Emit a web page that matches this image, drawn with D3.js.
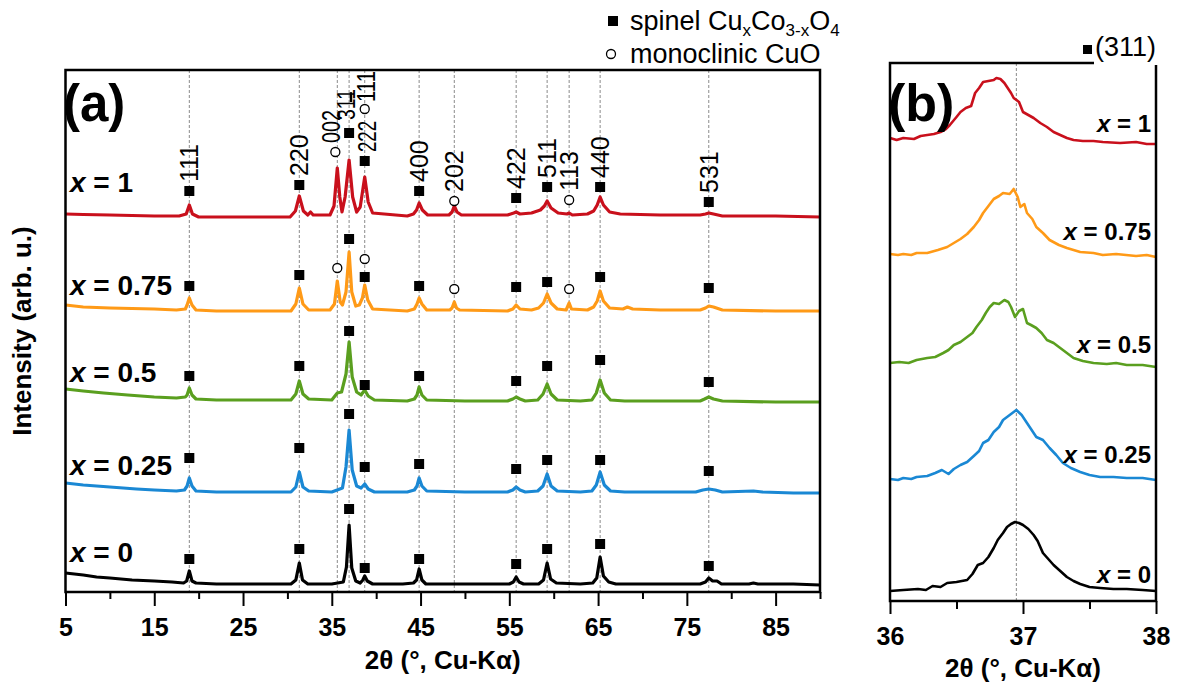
<!DOCTYPE html>
<html>
<head>
<meta charset="utf-8">
<script src="https://cdn.jsdelivr.net/npm/d3@7"></script>
<style>
  body { margin: 0; background: #fff; }
  svg text { font-family: Arial, "Liberation Sans", sans-serif; fill: #000; }
</style>
</head>
<body>
<svg id="chart" width="1179" height="682"></svg>
<script>
// ---------- data ----------
const samples = ['0', '0.25', '0.5', '0.75', '1'];
const colors  = ['#000000', '#1a88d4', '#5a9f1f', '#ff9a17', '#c9101c'];

// reference line positions, 2θ (deg)
const refLines = [18.95, 31.34, 35.62, 36.95, 38.71, 44.84, 48.8, 55.77, 59.26, 61.74, 65.23, 77.47];

const ticksA = [5, 15, 25, 35, 45, 55, 65, 75, 85];
const minorA = [10, 20, 30, 40, 50, 60, 70, 80, 90];
const ticksB = [36, 37, 38];
const minorB = [36.5, 37.5];

// panel (a): [2θ, intensity (stacked, arb. u.)]
const xrd0 = [[5,19],[6,18],[7,17],[8.5,15],[10,14],[12.5,12],[15,11],[17,10],[18.3,9],[18.65,11],[18.95,21],[19.25,11],[19.7,9],[22,8],[26,8],[30.4,8],[30.95,12],[31.34,29],[31.7,12],[32.3,8],[35,8],[36.3,10],[36.65,25],[36.95,67],[37.25,24],[37.7,11],[38.2,9],[38.5,12],[38.71,16],[39,11],[39.6,8],[43,8],[44.2,9],[44.55,12],[44.84,23],[45.15,12],[45.6,8],[50,8],[55,8],[55.45,10],[55.77,15],[56.1,10],[56.6,8],[58.3,8],[58.85,12],[59.26,29],[59.65,13],[60.3,9],[63,8],[64.4,9],[64.85,14],[65.23,35],[65.6,16],[66.2,10],[67,8],[72,8],[76.5,8],[77.1,10],[77.47,14],[77.9,11],[78.4,11],[78.9,8],[82,8],[82.5,9],[83,8],[87,8],[90,7]];
const xrd025 = [[5,109],[7,107],[10,105],[13,103],[15,102],[17.5,101],[18.4,102],[18.7,106],[18.95,114],[19.25,106],[19.7,101],[22,100],[27,100],[30.4,100],[30.95,105],[31.34,120],[31.75,105],[32.4,101],[35,100],[36.2,104],[36.6,125],[36.95,162],[37.3,122],[37.8,106],[38.3,104],[38.71,108],[39.1,103],[39.8,100],[43.5,100],[44.3,102],[44.6,106],[44.84,114],[45.15,106],[45.7,101],[50,100],[54.8,100],[55.4,102],[55.77,105],[56.2,102],[56.8,100],[58.2,101],[58.8,106],[59.26,118],[59.7,106],[60.4,101],[63,100],[64.3,101],[64.8,107],[65.23,120],[65.7,107],[66.4,101],[68,100],[73,100],[76,100],[76.8,102],[77.47,103],[78.2,102],[79,100],[82.5,101],[83.5,100],[87,99],[90,99]];
const xrd05 = [[5,203],[7,201],[9.3,199],[12,197],[15,195],[17.5,194],[18.5,195],[18.7,197],[18.95,204],[19.25,197],[19.7,193],[22,192],[27,192],[30.4,192],[30.95,198],[31.34,211],[31.75,198],[32.4,193],[35,192],[35.62,199],[36.1,200],[36.6,218],[36.95,250],[37.3,215],[37.8,200],[38.3,197],[38.71,202],[39.1,196],[39.8,192],[43.5,191],[44.3,193],[44.6,197],[44.84,205],[45.15,197],[45.7,192],[50,191],[54.8,191],[55.4,193],[55.77,195],[56.2,193],[56.8,191],[58.2,192],[58.8,198],[59.26,208],[59.7,198],[60.4,192],[63,191],[64.3,192],[64.8,199],[65.23,212],[65.7,199],[66.4,192],[68,191],[73,191],[76.5,191],[77,193],[77.47,195],[78,193],[79,191],[85,190],[90,190]];
const xrd075 = [[5,287],[7,285],[10,284],[15,283],[17.5,282],[18.5,283],[18.7,287],[18.95,294],[19.25,287],[19.7,282],[22,281],[27,281],[30.4,281],[30.95,288],[31.34,304],[31.75,288],[32.4,282],[34.8,282],[35.3,288],[35.62,311],[35.95,290],[36.2,287],[36.6,300],[36.95,340],[37.25,300],[37.7,286],[38.1,287],[38.45,294],[38.71,307],[39.05,292],[39.6,283],[43.5,281],[44.3,283],[44.6,288],[44.84,294],[45.15,288],[45.7,282],[48.3,282],[48.55,284],[48.8,290],[49.05,284],[49.4,282],[54.8,281],[55.4,283],[55.77,287],[56.2,283],[57.5,282],[58.3,284],[58.85,289],[59.26,298],[59.7,289],[60.4,283],[61.4,282],[61.74,289],[62,283],[63.8,282],[64.5,285],[64.9,291],[65.23,301],[65.6,291],[66.3,284],[67.8,283],[68.3,285],[68.9,283],[72,282],[76.5,282],[77.1,284],[77.47,286],[78,285],[79,282],[85,281],[90,281]];
const xrd1 = [[5,378],[7,377.5],[10,377],[15,376],[17.8,376],[18.6,378],[18.95,387],[19.3,378],[20,375],[25,375],[30.3,375],[30.9,381],[31.34,396],[31.8,381],[32.3,377],[32.6,380],[32.9,377],[34.8,377],[35.25,386],[35.62,424],[35.9,395],[36.15,380],[36.5,395],[36.95,432],[37.35,395],[37.8,380],[38.2,385],[38.71,415],[39.1,390],[39.6,379],[43.5,376],[44.2,378],[44.55,382],[44.84,389],[45.2,382],[45.8,377],[48.2,377],[48.55,380],[48.8,386],[49.1,380],[49.6,377],[54.8,377],[55.5,379],[55.77,380],[56.2,378],[57.5,379],[58.5,382],[58.95,386],[59.26,391],[59.7,384],[60.5,379],[61.5,378],[61.74,379],[62.1,377],[63.8,378],[64.5,381],[64.9,387],[65.23,395],[65.6,387],[66.3,380],[67.5,378],[72,377],[76.5,377],[77.1,378],[77.47,379],[78,378],[79,376],[85,376],[90,375]];

// reflection markers: [2θ, height, phase (s = spinel, c = CuO), hkl]
const marks0   = [[18.95,33,'s'],[31.34,43,'s'],[36.95,83,'s'],[38.71,24,'s'],[44.84,33,'s'],[55.77,28,'s'],[59.26,43,'s'],[65.23,48,'s'],[77.47,26,'s']];
const marks025 = [[18.95,134,'s'],[31.34,144,'s'],[36.95,178,'s'],[38.71,125,'s'],[44.84,128,'s'],[55.77,123,'s'],[59.26,132,'s'],[65.23,132,'s'],[77.47,121,'s']];
const marks05  = [[18.95,216,'s'],[31.34,226,'s'],[36.95,261,'s'],[38.71,207,'s'],[44.84,216,'s'],[55.77,211,'s'],[59.26,226,'s'],[65.23,232,'s'],[77.47,210,'s']];
const marks075 = [[18.95,306,'s'],[31.34,317,'s'],[35.62,324,'c'],[36.95,353,'s'],[38.71,315,'s'],[38.71,333,'c'],[44.84,306,'s'],[48.8,303,'c'],[55.77,305,'s'],[59.26,310,'s'],[61.74,303,'c'],[65.23,315,'s'],[77.47,304,'s']];
const marks1   = [[18.95,401,'s','111'],[31.34,407,'s','220'],[35.4,440,'c','002'],[36.95,459,'s','311'],[38.71,431,'s','222'],[38.71,483,'c','-111'],[44.84,401,'s','400'],[48.8,391,'c','202'],[55.77,394,'s','422'],[59.26,405,'s','511'],[61.74,392,'c','113'],[65.23,405,'s','440'],[77.47,390,'s','531']];

// panel (b): (311) region
const zoom0 = [[36,10],[36.1,11],[36.21,12],[36.27,11],[36.32,15],[36.38,14],[36.43,18],[36.5,19],[36.58,21],[36.62,27],[36.66,36],[36.7,38],[36.74,44],[36.78,53],[36.81,61],[36.85,68],[36.88,74],[36.91,77],[36.94,79],[36.97,78],[37,76],[37.04,72],[37.08,66],[37.11,60],[37.15,48],[37.19,42],[37.23,36],[37.28,30],[37.33,24],[37.38,20],[37.43,17],[37.5,14],[37.58,13],[37.68,12],[37.78,12],[37.9,11],[38,10]];
const zoom025 = [[36,122],[36.06,121],[36.1,123],[36.16,122],[36.2,124],[36.28,125],[36.34,128],[36.39,131],[36.44,127],[36.48,132],[36.53,136],[36.58,139],[36.63,145],[36.67,150],[36.7,158],[36.74,161],[36.78,169],[36.82,174],[36.85,181],[36.9,186],[36.95,191],[36.99,186],[37.03,178],[37.06,172],[37.1,164],[37.15,161],[37.2,153],[37.25,146],[37.3,138],[37.36,133],[37.43,129],[37.5,126],[37.58,124],[37.68,124],[37.78,123],[37.9,123],[38,121]];
const zoom05 = [[36,238],[36.07,239],[36.14,238],[36.2,241],[36.28,243],[36.34,244],[36.4,248],[36.44,251],[36.48,256],[36.53,259],[36.58,264],[36.62,268],[36.65,274],[36.69,281],[36.72,288],[36.75,294],[36.78,298],[36.82,297],[36.86,301],[36.89,299],[36.91,294],[36.94,284],[36.97,290],[37,292],[37.03,278],[37.06,276],[37.1,273],[37.14,268],[37.18,261],[37.23,258],[37.28,253],[37.33,248],[37.38,243],[37.45,240],[37.53,238],[37.63,237],[37.7,238],[37.78,236],[37.9,236],[38,234]];
const zoom075 = [[36,347],[36.06,346],[36.1,347],[36.16,346],[36.2,348],[36.28,348],[36.36,351],[36.43,354],[36.48,358],[36.53,362],[36.58,367],[36.63,374],[36.67,381],[36.7,388],[36.74,395],[36.78,402],[36.82,405],[36.85,408],[36.9,407],[36.93,412],[36.96,404],[36.98,394],[37.01,397],[37.03,388],[37.07,382],[37.1,374],[37.15,368],[37.2,361],[37.27,356],[37.33,353],[37.43,349],[37.53,348],[37.6,346],[37.7,347],[37.85,345],[37.93,346],[38,344]];
const zoom1 = [[36,463],[36.05,461],[36.1,463],[36.18,462],[36.23,465],[36.28,466],[36.33,467],[36.38,469],[36.42,472],[36.45,476],[36.5,484],[36.53,489],[36.57,493],[36.61,495],[36.64,508],[36.67,513],[36.7,519],[36.74,520],[36.78,521],[36.8,523],[36.83,522],[36.86,518],[36.88,514],[36.91,508],[36.93,503],[36.97,499],[37,489],[37.04,486],[37.08,483],[37.13,478],[37.18,474],[37.23,469],[37.28,466],[37.33,463],[37.38,461],[37.45,460],[37.53,460],[37.6,459],[37.73,458],[37.85,459],[37.93,457],[38,457]];

const seriesA = [xrd0, xrd025, xrd05, xrd075, xrd1];
const marksA  = [marks0, marks025, marks05, marks075, marks1];
const seriesB = [zoom0, zoom025, zoom05, zoom075, zoom1];

// ---------- layout ----------
const svg = d3.select('#chart');
const FONT = 'Arial, "Liberation Sans", sans-serif';

const xA = d3.scaleLinear().domain([5, 90]).range([65.5, 820]);
const yA = d3.scaleLinear().domain([0, 522]).range([592, 70]);
const xB = d3.scaleLinear().domain([36, 38]).range([890, 1156]);
const yB = d3.scaleLinear().domain([0, 538]).range([601, 63]);

const labelYA = [562, 475, 382, 295, 192];
const labelYB = [583, 463, 353, 240, 132];
// crowded hkl labels near 311: [dx, dy] nudges, and squeezed length
const hklNudge = { '002': [-4, 0], '311': [-3, -4], '222': [2, 0], '-111': [1, 2] };
const hklSqueeze = { '002': 33, '311': 31, '222': 31, '-111': 31 };

// dashed reference lines
svg.append('g').selectAll('line')
  .data(refLines).enter().append('line')
    .attr('x1', d => xA(d)).attr('x2', d => xA(d))
    .attr('y1', yA.range()[1]).attr('y2', yA.range()[0])
    .attr('stroke', '#8a8a8a').attr('stroke-width', 1)
    .attr('stroke-dasharray', '3,2');

svg.append('line')
  .attr('x1', xB(36.95)).attr('x2', xB(36.95))
  .attr('y1', yB.range()[1]).attr('y2', yB.range()[0])
  .attr('stroke', '#8a8a8a').attr('stroke-width', 1)
  .attr('stroke-dasharray', '3,2');

// patterns
const lineA = d3.line().x(d => xA(d[0])).y(d => yA(d[1]));
const lineB = d3.line().x(d => xB(d[0])).y(d => yB(d[1]));

svg.append('g').selectAll('path')
  .data(seriesA).enter().append('path')
    .attr('d', lineA)
    .attr('fill', 'none')
    .attr('stroke', (d, i) => colors[i])
    .attr('stroke-width', 3.2)
    .attr('stroke-linejoin', 'round');

svg.append('g').selectAll('path')
  .data(seriesB).enter().append('path')
    .attr('d', lineB)
    .attr('fill', 'none')
    .attr('stroke', (d, i) => colors[i])
    .attr('stroke-width', 2.6)
    .attr('stroke-linejoin', 'round');

// reflection markers
const allMarks = marksA.flat();
svg.append('g').selectAll('rect')
  .data(allMarks.filter(m => m[2] === 's')).enter().append('rect')
    .attr('x', d => xA(d[0]) - 5).attr('y', d => yA(d[1]) - 5)
    .attr('width', 10).attr('height', 10)
    .attr('fill', '#000');
svg.append('g').selectAll('circle')
  .data(allMarks.filter(m => m[2] === 'c')).enter().append('circle')
    .attr('cx', d => xA(d[0])).attr('cy', d => yA(d[1]))
    .attr('r', 4.5)
    .attr('fill', '#fff').attr('stroke', '#000').attr('stroke-width', 1.3);

// hkl labels above x = 1
const hkl = svg.append('g').selectAll('text')
  .data(marks1).enter().append('text')
    .attr('transform', d => {
      const n = hklNudge[d[3]] || [0, 0];
      return `translate(${xA(d[0]) + 9 + n[0]},${yA(d[1]) - 9 + n[1]}) rotate(-90)`;
    })
    .attr('font-size', 25)
    .attr('font-family', FONT);
hkl.each(function(d) {
  const t = d3.select(this);
  if (hklSqueeze[d[3]]) {
    t.attr('textLength', hklSqueeze[d[3]]).attr('lengthAdjust', 'spacingAndGlyphs');
  }
  if (d[3] === '-111') {
    // monoclinic (-111), bar over the first index
    t.append('tspan').attr('text-decoration', 'overline').text('1');
    t.append('tspan').text('11');
  } else {
    t.text(d[3]);
  }
});

// sample labels
function sampleLabel(g, x, y, s, size, anchor) {
  const t = g.append('text')
    .attr('x', x).attr('y', y)
    .attr('font-size', size).attr('font-weight', 'bold')
    .attr('text-anchor', anchor)
    .attr('font-family', FONT);
  t.append('tspan').attr('font-style', 'italic').text('x');
  t.append('tspan').text(' = ' + s);
}
const lab = svg.append('g');
samples.forEach((s, i) => {
  sampleLabel(lab, 70, labelYA[i], s, 28, 'start');
  sampleLabel(lab, 1151, labelYB[i], s, 24, 'end');
});

// frames
svg.append('rect')
  .attr('x', xA.range()[0]).attr('y', yA.range()[1])
  .attr('width', xA.range()[1] - xA.range()[0])
  .attr('height', yA.range()[0] - yA.range()[1])
  .attr('fill', 'none').attr('stroke', '#000').attr('stroke-width', 2.5);
svg.append('rect')
  .attr('x', xB.range()[0]).attr('y', yB.range()[1])
  .attr('width', xB.range()[1] - xB.range()[0])
  .attr('height', yB.range()[0] - yB.range()[1])
  .attr('fill', 'none').attr('stroke', '#000').attr('stroke-width', 2.5);

// axes
function styleAxis(g, labels) {
  g.select('.domain').remove();
  g.selectAll('.tick line').attr('stroke', '#000').attr('stroke-width', 2);
  g.selectAll('.tick text')
    .attr('font-size', 25).attr('font-weight', 'bold')
    .attr('font-family', FONT).attr('fill', '#000');
  if (!labels) g.selectAll('.tick text').remove();
}
svg.append('g').attr('transform', `translate(0,${yA(0)})`)
  .call(d3.axisBottom(xA).tickValues(minorA).tickSize(7))
  .call(g => styleAxis(g, false));
svg.append('g').attr('transform', `translate(0,${yA(0)})`)
  .call(d3.axisBottom(xA).tickValues(ticksA).tickSize(14).tickPadding(12))
  .call(g => styleAxis(g, true));
svg.append('g').attr('transform', `translate(0,${yB(0)})`)
  .call(d3.axisBottom(xB).tickValues(minorB).tickSize(8))
  .call(g => styleAxis(g, false));
svg.append('g').attr('transform', `translate(0,${yB(0)})`)
  .call(d3.axisBottom(xB).tickValues(ticksB).tickSize(13).tickPadding(13).tickFormat(d3.format('d')))
  .call(g => styleAxis(g, true));

// axis titles
svg.append('text')
  .attr('x', (xA.range()[0] + xA.range()[1]) / 2).attr('y', 669)
  .attr('text-anchor', 'middle').attr('font-size', 26).attr('font-weight', 'bold')
  .text('2θ (°, Cu-Kα)');
svg.append('text')
  .attr('x', (xB.range()[0] + xB.range()[1]) / 2).attr('y', 677)
  .attr('text-anchor', 'middle').attr('font-size', 26).attr('font-weight', 'bold')
  .text('2θ (°, Cu-Kα)');
svg.append('text')
  .attr('transform', `translate(31,${(yA.range()[0] + yA.range()[1]) / 2}) rotate(-90)`)
  .attr('text-anchor', 'middle').attr('font-size', 26).attr('font-weight', 'bold')
  .text('Intensity (arb. u.)');

// panel letters
svg.append('text').attr('x', 63).attr('y', 121)
  .attr('font-size', 51).attr('font-weight', 'bold').text('(a)');
svg.append('text').attr('x', 888).attr('y', 121)
  .attr('font-size', 52).attr('font-weight', 'bold').text('(b)');

// legend (a)
const leg = svg.append('g');
leg.append('rect').attr('x', 608).attr('y', 16).attr('width', 10).attr('height', 10).attr('fill', '#000');
const l1 = leg.append('text').attr('x', 630).attr('y', 30).attr('font-size', 27);
l1.append('tspan').text('spinel Cu');
l1.append('tspan').attr('font-size', 17).attr('dy', 6).text('x');
l1.append('tspan').attr('dy', -6).text('Co');
l1.append('tspan').attr('font-size', 17).attr('dy', 6).text('3-x');
l1.append('tspan').attr('dy', -6).text('O');
l1.append('tspan').attr('font-size', 17).attr('dy', 6).text('4');
leg.append('circle').attr('cx', 611).attr('cy', 54).attr('r', 4.5)
  .attr('fill', '#fff').attr('stroke', '#000').attr('stroke-width', 1.3);
leg.append('text').attr('x', 630).attr('y', 63).attr('font-size', 27).text('monoclinic CuO');

// legend (b)
svg.append('rect').attr('x', 1094).attr('y', 28).attr('width', 85).attr('height', 37).attr('fill', '#fff');
svg.append('rect').attr('x', 1083).attr('y', 45).attr('width', 9).attr('height', 9).attr('fill', '#000');
svg.append('text').attr('x', 1095).attr('y', 56).attr('font-size', 27).text('(311)');
</script>
</body>
</html>
